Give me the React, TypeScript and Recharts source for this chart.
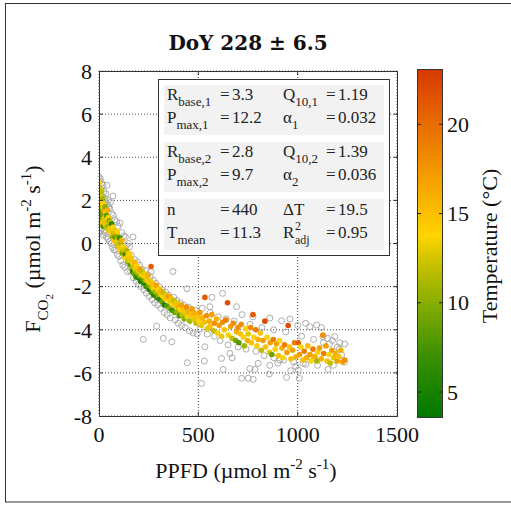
import { CartesianGrid, Scatter, ScatterChart, XAxis, YAxis } from 'recharts';

// gray rings: all half-hourly data [PPFD, F]
const ringPoints: [number, number][] = [
  [0, 3.1], [1, 2.6], [2, 0.5], [3, 2.1], [4, 2.9], [5, 1.0], [6, 1.7], [7, 3.0], [8, 0.6], [10, 2.5],
  [11, 1.3], [13, 2.8], [14, 0.7], [16, 2.2], [18, 1.4], [20, 2.7], [21, 0.4], [23, 1.8], [25, 2.4], [27, 0.6],
  [29, 2.1], [31, 0.5], [33, 1.9], [35, 2.3], [38, 0.3], [40, 2.7], [42, 1.8], [45, 0.2], [47, 2.0], [50, 1.7],
  [53, 0.1], [55, 1.6], [58, 1.9], [61, 0.0], [64, 1.4], [68, -0.2], [70, 2.2], [72, 1.3], [76, -0.3], [80, 1.1],
  [84, -0.3], [88, 1.0], [92, -0.5], [96, 0.8], [100, -0.6], [106, 0.95], [110, -0.8], [115, 0.5], [120, -1.0], [125, 0.35],
  [130, -1.1], [133, 0.3], [138, -0.1], [143, -1.3], [148, 0.0],
  [154, -0.15], [159, -1.3], [163, -0.55], [171, 0.3], [174, -1.6], [180, -0.75], [187, -1.75], [193, -0.85], [199, -1.9], [204, -1.0],
  [211, -2.0], [216, -1.2], [223, -4.45], [226, -2.15], [233, -1.25], [238, -2.3], [246, -1.45], [251, -2.45], [258, -1.55], [262, -1.3],
  [267, -2.6], [274, -1.7], [280, -2.75], [287, -1.85], [290, -3.83], [296, -2.85], [303, -2.0], [310, -3.0], [318, -2.15], [324, -4.4],
  [329, -3.2], [335, -2.25], [343, -3.3], [351, -2.4], [358, -3.45], [366, -4.56], [372, -1.3], [377, -2.5], [384, -3.55], [392, -2.65],
  [399, -3.7], [408, -2.75], [416, -3.8], [425, -2.85], [433, -3.9], [443, -2.1], [444, -5.53], [449, -2.95], [456, -4.05], [466, -3.05],
  [474, -4.15], [485, -3.1], [494, -4.2],
  [516, -6.49], [530, -5.45], [533, -4.79], [617, -5.33], [625, -5.84], [659, -5.1], [718, -6.25], [751, -6.25], [776, -6.3], [785, -5.84],
  [801, -5.56], [857, -6.05], [910, -5.4], [944, -6.21], [1003, -5.87], [1008, -6.25], [1028, -5.56], [1153, -5.84], [1221, -5.17], [1237, -4.66],
  [1212, -4.6], [1187, -4.32], [1127, -4.32], [1095, -3.78], [1061, -3.86], [961, -3.5], [919, -3.58], [860, -3.46], [692, -2.93], [622, -2.31],
  [558, -2.93], [568, -2.5], [720, -3.3], [775, -3.4], [1000, -3.8], [1040, -3.7], [1120, -3.9], [1150, -4.4], [1175, -4.5], [510, -3.95],
  [545, -4.2], [580, -4.3], [610, -4.5], [650, -4.7], [700, -4.8], [740, -4.9], [790, -5.0], [830, -5.2], [880, -5.3], [930, -5.4],
  [980, -5.5], [1040, -5.6], [1100, -5.65], [1130, -4.6], [1180, -5.65], [860, -5.65], [900, -5.55], [965, -5.9], [990, -5.7], [1060, -5.25],
  [1085, -5.3], [1200, -4.8], [1235, -5.5], [760, -5.8], [670, -5.3], [520, -3.0], [560, -3.2], [600, -3.4], [640, -3.5], [680, -3.6],
  [760, -3.75], [820, -3.9], [880, -4.0], [940, -4.1], [1020, -4.3], [1080, -4.45], [1160, -4.65], [1210, -4.9],
];

// filled dots: fitted subset [PPFD, F, air temperature]
const tempPoints: [number, number, number][] = [
  [1, 2.3, 13], [2, 1.7, 11], [2, 2.8, 14], [3, 1.2, 8], [4, 2.0, 15], [5, 1.0, 12], [6, 2.5, 13], [7, 1.5, 6], [8, 2.1, 14], [9, 1.1, 10],
  [11, 1.8, 16], [12, 0.9, 13], [13, 2.4, 12], [15, 1.4, 9], [16, 1.9, 14], [17, 1.0, 15], [19, 2.1, 11], [21, 1.6, 13], [22, 0.8, 7], [24, 1.8, 14],
  [26, 1.2, 12], [27, 1.5, 17], [29, 0.9, 13], [31, 1.7, 10], [32, 1.2, 15], [34, 1.45, 14], [36, 0.75, 12], [38, 1.3, 8], [40, 1.0, 13], [42, 1.55, 16],
  [45, 0.8, 11], [47, 1.2, 14], [49, 0.6, 13], [52, 1.05, 9], [55, 0.7, 15], [58, 1.0, 12],
  [61, 0.5, 14], [63, 0.9, 6], [66, 0.6, 13], [68, 0.3, 11], [70, 0.75, 14], [73, 0.45, 12], [75, 0.15, 15], [78, 0.6, 13], [81, 0.3, 8], [83, 0.5, 16],
  [86, 0.05, 13], [89, 0.35, 10], [92, 0.55, 14], [94, -0.1, 12], [97, 0.2, 15], [100, -0.15, 13], [103, 0.25, 7], [106, -0.3, 14], [109, 0.0, 11], [112, -0.2, 13],
  [115, 0.15, 16], [118, -0.45, 9], [121, -0.15, 14], [124, -0.35, 12], [127, -0.6, 15], [130, -0.25, 13], [133, -0.5, 6], [137, -0.7, 14], [140, -0.35, 11], [143, -0.6, 13],
  [146, -0.85, 10], [149, -0.45, 15],
  [152, -0.8, 13], [155, -0.55, 14], [158, -1.0, 8], [161, -0.7, 15], [164, -1.15, 11], [166, -0.85, 13], [169, -1.3, 6], [172, -0.95, 14], [175, -1.1, 12], [178, -1.4, 9],
  [180, -0.9, 16], [183, -1.2, 13], [186, -1.55, 7], [189, -1.05, 14], [192, -1.35, 11], [195, -1.15, 15], [198, -1.6, 6], [201, -1.3, 13], [204, -1.5, 10], [207, -1.2, 17],
  [210, -1.75, 5], [213, -1.45, 14], [216, -1.3, 12], [219, -1.65, 8], [222, -1.5, 15], [226, -1.85, 6], [229, -1.4, 13], [232, -1.7, 11], [236, -1.55, 14], [239, -2.0, 7],
  [242, -1.7, 13], [245, -1.5, 16], [249, -1.95, 9], [252, -1.8, 14], [255, -2.15, 5], [259, -1.75, 13], [262, -1.07, 21], [263, -2.0, 12], [266, -2.3, 8], [270, -1.85, 15],
  [273, -2.1, 13], [277, -2.4, 6], [281, -2.0, 14], [284, -2.25, 11], [288, -1.95, 17], [292, -2.5, 7], [295, -2.2, 13], [298, -2.4, 10],
  [302, -2.1, 14], [306, -2.6, 6], [309, -2.35, 13], [313, -2.2, 16], [317, -2.7, 9], [321, -2.45, 14], [325, -2.3, 12], [329, -2.85, 5], [333, -2.55, 15], [337, -2.4, 13],
  [342, -2.9, 8], [346, -2.6, 14], [350, -2.45, 17], [355, -3.0, 10], [359, -2.7, 13], [364, -2.55, 15], [368, -3.1, 7], [372, -2.8, 14], [377, -2.65, 12], [381, -3.2, 9],
  [386, -2.9, 15], [390, -2.75, 13], [395, -3.15, 11], [400, -2.95, 16], [404, -3.35, 8], [409, -3.05, 14], [414, -2.85, 17], [419, -3.3, 12], [424, -3.1, 15], [429, -3.5, 10],
  [434, -3.2, 13], [440, -2.95, 18], [445, -3.4, 14], [451, -3.2, 16], [457, -3.6, 11], [463, -3.3, 15], [469, -3.05, 17], [476, -3.5, 13], [482, -3.25, 16], [489, -3.7, 12],
  [495, -3.4, 15],
  [503, -3.6, 14], [508, -3.2, 17], [516, -3.8, 13], [521, -3.45, 16], [530, -3.65, 15], [533, -2.5, 21], [541, -3.35, 18], [546, -3.95, 13], [555, -3.6, 16], [559, -3.85, 15],
  [568, -3.3, 17], [576, -4.05, 12], [581, -3.7, 18], [592, -3.5, 16], [597, -4.15, 14], [605, -3.8, 17], [617, -4.3, 13], [622, -3.65, 18], [631, -4.0, 15], [639, -3.55, 19],
  [647, -2.75, 22], [651, -4.25, 14], [663, -3.85, 17], [670, -4.4, 12], [676, -3.7, 18], [688, -4.5, 9], [693, -4.1, 16], [699, -3.9, 18],
  [704, -4.6, 8], [713, -4.2, 15], [716, -3.75, 18], [727, -4.35, 14], [731, -4.75, 11], [738, -3.95, 14], [748, -4.5, 16], [751, -4.2, 13], [763, -3.9, 18], [767, -4.6, 15],
  [775, -3.3, 21], [780, -4.35, 14], [789, -4.0, 19], [795, -4.75, 14], [801, -4.45, 16], [812, -4.15, 15], [817, -4.95, 12], [826, -4.5, 17], [835, -3.6, 22], [838, -4.8, 15],
  [846, -4.35, 14], [858, -5.05, 13], [862, -4.6, 17], [870, -5.15, 9], [877, -4.45, 19], [887, -4.9, 14], [894, -4.65, 17], [903, -5.2, 15], [909, -4.5, 14], [921, -4.85, 16],
  [926, -5.3, 14], [934, -4.7, 19], [946, -5.05, 17], [952, -3.8, 22], [959, -4.8, 15], [966, -5.35, 15], [975, -4.95, 17], [984, -4.6, 19], [991, -5.25, 16], [1003, -4.6, 21],
  [1009, -5.15, 17], [1016, -4.8, 14], [1027, -5.4, 15], [1033, -5.0, 19], [1045, -5.3, 16], [1051, -4.75, 15], [1062, -5.15, 17], [1068, -5.45, 14], [1077, -4.9, 19], [1086, -5.25, 16],
  [1097, -5.45, 11], [1101, -5.05, 14], [1110, -4.85, 17], [1119, -5.35, 16], [1127, -4.25, 18], [1131, -5.1, 19], [1142, -4.75, 17], [1148, -5.45, 15], [1157, -5.15, 14], [1164, -5.55, 12],
  [1172, -4.95, 17], [1181, -5.3, 15], [1190, -5.1, 16], [1199, -5.45, 17], [1208, -5.25, 15], [1217, -4.95, 16], [1226, -5.5, 17], [1237, -5.4, 18],
];

const xTicks = [0, 500, 1000, 1500];
const yTicks = [-8, -6, -4, -2, 0, 2, 4, 6, 8];
const tempTicks = [5, 10, 15, 20];
const tempMin = 3.6;
const tempMax = 23.1;
const title = 'DoY 228 \u00b1 6.5';

// fit statistics, two parameter sets plus summary
const fit1 = ['3.3', '12.2', '1.19', '0.032'];
const fit2 = ['2.8', '9.7', '1.39', '0.036'];
const summary = ['440', '11.3', '19.5', '0.95'];

const colorStops: [number, string][] = [
  [3.6, '#007800'],
  [7, '#3a8f00'],
  [10, '#87ad00'],
  [12.5, '#d2c400'],
  [13.8, '#ffd400'],
  [16, '#f8b000'],
  [18, '#f08e00'],
  [20.5, '#e66400'],
  [23.1, '#d63800'],
];

const W = 511;
const H = 506;
const plot = { left: 99, top: 71, right: 397, bottom: 416 };
const cbar = { x: 417, y: 69, w: 25, h: 348 };
const serif = 'Liberation Serif, DejaVu Serif, serif';

function hexToRgb(h: string) {
  return [1, 3, 5].map(i => parseInt(h.slice(i, i + 2), 16));
}

function tempColor(t: number) {
  for (let i = 1; i < colorStops.length; i++) {
    const [t1, c1] = colorStops[i];
    if (t <= t1 || i === colorStops.length - 1) {
      const [t0, c0] = colorStops[i - 1];
      const f = Math.min(1, Math.max(0, (t - t0) / (t1 - t0)));
      const a = hexToRgb(c0);
      const b = hexToRgb(c1);
      const m = a.map((v, k) => Math.round(v + (b[k] - v) * f));
      return `rgb(${m[0]},${m[1]},${m[2]})`;
    }
  }
  return colorStops[0][1];
}

const RingDot = (props: any) => (
  <circle cx={props.cx} cy={props.cy} r={3} fill="none" stroke="#a4a4a4" strokeWidth={0.9} />
);

const TempDot = (props: any) => (
  <circle cx={props.cx} cy={props.cy} r={2.8} fill={tempColor(props.payload?.t ?? props.t)} />
);

const tickStyle = { style: { fontFamily: serif }, fontSize: 22, fill: '#111' };
const txt = { fontFamily: serif };

function StatRow({ y, label, sub, value, x = 167 }: { y: number; label: string; sub?: string; value: string; x?: number }) {
  const eqX = x === 167 ? 220 : 326;
  const valX = x === 167 ? 232 : 338;
  return (
    <g style={txt} fill="#222">
      <text x={x} y={y} fontSize={17}>
        {label}
        {sub && (
          <tspan fontSize={13} dy={6}>
            {sub}
          </tspan>
        )}
      </text>
      <text x={eqX} y={y} fontSize={17}>=</text>
      <text x={valX} y={y} fontSize={17}>{value}</text>
    </g>
  );
}

export default function App() {
  const ringData = ringPoints.map(([x, y]) => ({ x, y }));
  const tempData = tempPoints.map(([x, y, t]) => ({ x, y, t }));
  const tempY = (t: number) => cbar.y + cbar.h - ((t - tempMin) / (tempMax - tempMin)) * cbar.h;
  // inward axis tick marks (matlab style), placed from the axis ranges
  const tickX = (v: number) => plot.left + (v / 1500) * (plot.right - plot.left);
  const tickY = (v: number) => plot.top + ((8 - v) / 16) * (plot.bottom - plot.top);

  return (
    <div style={{ position: 'absolute', left: 0, top: 0, width: W, height: H, background: '#fff', fontFamily: serif }}>
      <ScatterChart width={W} height={H} margin={{ top: plot.top, right: W - plot.right, bottom: H - plot.bottom - 30, left: plot.left - 50 }}>
        <CartesianGrid stroke="#444" strokeDasharray="1 2" />
        <XAxis
          type="number"
          dataKey="x"
          domain={[0, 1500]}
          ticks={xTicks}
          interval={0}
          height={30}
          axisLine={false}
          tickLine={false}
          tickMargin={4}
          tick={tickStyle}
          allowDataOverflow
        />
        <YAxis
          type="number"
          dataKey="y"
          domain={[-8, 8]}
          ticks={yTicks}
          interval={0}
          width={50}
          axisLine={false}
          tickLine={false}
          tickMargin={1}
          tick={tickStyle}
          allowDataOverflow
        />
        <Scatter data={ringData} shape={RingDot} isAnimationActive={false} />
        <Scatter data={tempData} shape={TempDot} isAnimationActive={false} />
      </ScatterChart>

      <svg width={W} height={H} style={{ position: 'absolute', left: 0, top: 0, pointerEvents: 'none', fontFamily: serif }}>
        <defs>
          <linearGradient id="tempGrad" x1="0" y1="1" x2="0" y2="0">
            {colorStops.map(([t, c]) => (
              <stop key={t} offset={(t - tempMin) / (tempMax - tempMin)} stopColor={c} />
            ))}
          </linearGradient>
        </defs>

        <rect x={5.5} y={3.5} width={530} height={498.5} fill="none" stroke="#333" />

        <text x={248} y={50} textAnchor="middle" style={{ fontFamily: 'DejaVu Serif, serif' }} fontWeight="bold" fontSize={20} fill="#111">
          {title}
        </text>

        <rect x={plot.left + 0.5} y={plot.top + 0.5} width={plot.right - plot.left} height={plot.bottom - plot.top} fill="none" stroke="#333" />
        {xTicks.slice(1, -1).map(v => (
          <g key={`xt${v}`} stroke="#333">
            <line x1={tickX(v)} x2={tickX(v)} y1={plot.bottom} y2={plot.bottom - 4} />
            <line x1={tickX(v)} x2={tickX(v)} y1={plot.top} y2={plot.top + 4} />
          </g>
        ))}
        {yTicks.slice(1, -1).map(v => (
          <g key={`yt${v}`} stroke="#333">
            <line x1={plot.left} x2={plot.left + 4} y1={tickY(v)} y2={tickY(v)} />
            <line x1={plot.right - 3} x2={plot.right + 1} y1={tickY(v)} y2={tickY(v)} />
          </g>
        ))}

        {/* stats box */}
        <rect x={158.5} y={79.5} width={231} height={176} fill="#fff" stroke="#333" />
        <rect x={164} y={85} width={220} height={50} fill="#f2f2f2" />
        <rect x={164} y={142} width={220} height={50} fill="#f2f2f2" />
        <rect x={164} y={199} width={220} height={51} fill="#f2f2f2" />

        <StatRow y={100} label="R" sub="base,1" value={fit1[0]} />
        <StatRow y={123} label="P" sub="max,1" value={fit1[1]} />
        <StatRow y={100} x={283} label="Q" sub="10,1" value={fit1[2]} />
        <StatRow y={123} x={283} label={'\u03b1'} sub="1" value={fit1[3]} />

        <StatRow y={157} label="R" sub="base,2" value={fit2[0]} />
        <StatRow y={180} label="P" sub="max,2" value={fit2[1]} />
        <StatRow y={157} x={283} label="Q" sub="10,2" value={fit2[2]} />
        <StatRow y={180} x={283} label={'\u03b1'} sub="2" value={fit2[3]} />

        <StatRow y={215} label="n" value={summary[0]} />
        <StatRow y={238} label="T" sub="mean" value={summary[1]} />
        <StatRow y={215} x={283} label={'\u0394T'} value={summary[2]} />
        <g style={txt} fill="#222">
          <text x={283} y={238} fontSize={17}>
            R
          </text>
          <text x={295} y={230} fontSize={12}>2</text>
          <text x={295} y={244} fontSize={12}>adj</text>
          <text x={326} y={238} fontSize={17}>=</text>
          <text x={338} y={238} fontSize={17}>{summary[3]}</text>
        </g>

        {/* axis labels */}
        <text x={246} y={478} textAnchor="middle" style={txt} fontSize={22} fill="#111">
          PPFD (µmol m<tspan fontSize={15} dy={-9}>-2</tspan>
          <tspan dy={9}> s</tspan>
          <tspan fontSize={15} dy={-9}>-1</tspan>
          <tspan dy={9}>)</tspan>
        </text>
        <text transform="translate(40,249) rotate(-90)" textAnchor="middle" style={txt} fontSize={22} fill="#111">
          F<tspan fontSize={15} dy={8}>CO</tspan>
          <tspan fontSize={11} dy={5}>2</tspan>
          <tspan dy={-13}> (µmol m</tspan>
          <tspan fontSize={15} dy={-9}>-2</tspan>
          <tspan dy={9}> s</tspan>
          <tspan fontSize={15} dy={-9}>-1</tspan>
          <tspan dy={9}>)</tspan>
        </text>

        {/* colour bar */}
        <rect x={cbar.x + 0.5} y={cbar.y + 0.5} width={cbar.w} height={cbar.h} fill="url(#tempGrad)" stroke="#333" />
        {tempTicks.map(t => (
          <g key={t}>
            <line x1={cbar.x} x2={cbar.x + 4} y1={tempY(t)} y2={tempY(t)} stroke="#222" />
            <line x1={cbar.x + cbar.w - 3} x2={cbar.x + cbar.w + 1} y1={tempY(t)} y2={tempY(t)} stroke="#222" />
            <text x={447} y={tempY(t)} dy="0.35em" style={txt} fontSize={22} fill="#111">
              {t}
            </text>
          </g>
        ))}
        <text transform="translate(497,246) rotate(-90)" textAnchor="middle" style={txt} fontSize={22} fill="#111">
          Temperature (°C)
        </text>
      </svg>
    </div>
  );
}
